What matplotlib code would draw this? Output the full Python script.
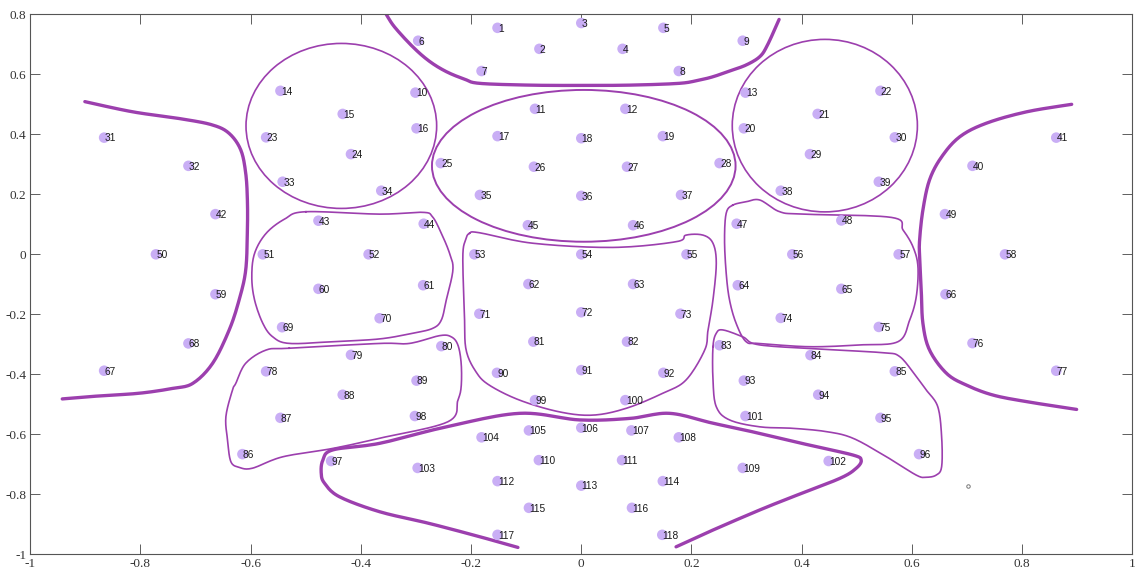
import numpy as np
import matplotlib
matplotlib.use("Agg")
from matplotlib import pyplot as plt
from matplotlib.patches import Ellipse
from matplotlib.ticker import FuncFormatter

# axis numbers in a serif face, channel labels in sans
plt.rcParams['font.family'] = ['Liberation Serif', 'DejaVu Serif']

# electrode positions (2D projection), channel n is at index n-1
chan_x = [-0.152, -0.076, 0.0, 0.075, 0.149, -0.296, -0.181, 0.177, 0.293, -0.301,
          -0.084, 0.080, 0.298, -0.546, -0.433, -0.299, -0.152, 0.0, 0.148, 0.295,
          0.429, 0.543, -0.572, -0.418, -0.255, -0.086, 0.083, 0.251, 0.415, 0.569,
          -0.866, -0.713, -0.542, -0.363, -0.184, 0.0, 0.181, 0.362, 0.540, 0.710,
          0.862, -0.664, -0.477, -0.286, -0.097, 0.094, 0.282, 0.472, 0.660, -0.772,
          -0.578, -0.386, -0.194, 0.0, 0.191, 0.383, 0.576, 0.769, -0.664, -0.477,
          -0.287, -0.096, 0.094, 0.284, 0.472, 0.661, -0.866, -0.713, -0.543, -0.366,
          -0.185, 0.0, 0.180, 0.362, 0.540, 0.710, 0.862, -0.572, -0.418, -0.254,
          -0.087, 0.083, 0.251, 0.416, 0.569, -0.615, -0.546, -0.433, -0.299, -0.153,
          0.0, 0.149, 0.295, 0.430, 0.543, 0.613, -0.454, -0.302, -0.084, 0.080,
          0.298, 0.449, -0.297, -0.181, -0.095, 0.0, 0.091, 0.177, 0.293, -0.077,
          0.074, -0.152, 0.0, 0.148, -0.095, 0.092, -0.152, 0.147]
chan_y = [0.755, 0.685, 0.771, 0.685, 0.755, 0.712, 0.611, 0.611, 0.712, 0.539,
          0.485, 0.485, 0.539, 0.545, 0.468, 0.420, 0.394, 0.387, 0.394, 0.420,
          0.468, 0.545, 0.390, 0.334, 0.304, 0.292, 0.292, 0.304, 0.334, 0.390,
          0.389, 0.295, 0.242, 0.212, 0.198, 0.195, 0.198, 0.212, 0.242, 0.295,
          0.389, 0.134, 0.112, 0.102, 0.097, 0.097, 0.102, 0.113, 0.134, 0.0,
          0.0, 0.0, 0.0, 0.0, 0.0, 0.0, 0.0, 0.0, -0.133, -0.115,
          -0.103, -0.099, -0.099, -0.103, -0.115, -0.133, -0.388, -0.297, -0.243, -0.213,
          -0.198, -0.193, -0.198, -0.212, -0.242, -0.296, -0.388, -0.390, -0.335, -0.306,
          -0.291, -0.291, -0.303, -0.336, -0.390, -0.666, -0.545, -0.468, -0.421, -0.395,
          -0.386, -0.395, -0.421, -0.468, -0.545, -0.666, -0.689, -0.539, -0.486, -0.486,
          -0.539, -0.689, -0.712, -0.610, -0.587, -0.578, -0.587, -0.610, -0.712, -0.686,
          -0.686, -0.756, -0.771, -0.756, -0.845, -0.845, -0.935, -0.935]
chan_names = [str(i + 1) for i in range(len(chan_x))]

# region borders, thick (open curves)
frontal_border = [(-0.354, 0.800), (-0.339, 0.758), (-0.306, 0.692), (-0.276, 0.644),
                  (-0.245, 0.609), (-0.212, 0.584), (-0.185, 0.570), (-0.094, 0.564),
                  (-0.003, 0.563), (0.088, 0.564), (0.178, 0.570), (0.214, 0.581),
                  (0.239, 0.592), (0.269, 0.611), (0.299, 0.631), (0.324, 0.659),
                  (0.338, 0.698), (0.359, 0.783)]
left_temporal = [(-0.901, 0.509), (-0.814, 0.475), (-0.724, 0.451), (-0.669, 0.431),
                 (-0.639, 0.403), (-0.618, 0.348), (-0.609, 0.270), (-0.606, 0.181),
                 (-0.606, 0.081), (-0.609, -0.052), (-0.621, -0.152), (-0.639, -0.252),
                 (-0.669, -0.363), (-0.705, -0.430), (-0.742, -0.447), (-0.802, -0.463),
                 (-0.875, -0.472), (-0.942, -0.482)]
right_temporal = [(0.890, 0.500), (0.808, 0.475), (0.735, 0.437), (0.687, 0.392),
                  (0.654, 0.325), (0.632, 0.248), (0.620, 0.148), (0.614, 0.048),
                  (0.614, -0.008), (0.617, -0.119), (0.620, -0.230), (0.632, -0.319),
                  (0.663, -0.397), (0.699, -0.436), (0.747, -0.469), (0.808, -0.491),
                  (0.899, -0.517)]
occipital = [(0.172, -0.975), (0.239, -0.919), (0.324, -0.852), (0.384, -0.808),
             (0.469, -0.747), (0.499, -0.713), (0.508, -0.686), (0.493, -0.669),
             (0.414, -0.636), (0.324, -0.597), (0.239, -0.563), (0.160, -0.530),
             (0.088, -0.547), (-0.003, -0.552), (-0.112, -0.530), (-0.245, -0.575),
             (-0.366, -0.630), (-0.451, -0.652), (-0.469, -0.686), (-0.472, -0.730),
             (-0.466, -0.763), (-0.439, -0.808), (-0.366, -0.858), (-0.276, -0.897),
             (-0.185, -0.941), (-0.115, -0.977)]

# region borders, thin (closed)
left_central = [(-0.500, 0.142), (-0.366, 0.134), (-0.288, 0.140), (-0.270, 0.125),
                (-0.254, 0.070), (-0.239, 0.003), (-0.233, -0.052), (-0.245, -0.152),
                (-0.254, -0.219), (-0.270, -0.247), (-0.306, -0.263), (-0.366, -0.282),
                (-0.451, -0.291), (-0.530, -0.297), (-0.560, -0.275), (-0.578, -0.230),
                (-0.593, -0.152), (-0.598, -0.075), (-0.593, 0.003), (-0.572, 0.070),
                (-0.538, 0.118)]
right_central = [(0.275, 0.164), (0.299, 0.175), (0.324, 0.181), (0.360, 0.142),
                 (0.402, 0.134), (0.563, 0.123), (0.584, 0.081), (0.602, 0.025),
                 (0.611, -0.041), (0.608, -0.141), (0.596, -0.219), (0.575, -0.291),
                 (0.505, -0.302), (0.414, -0.308), (0.324, -0.297), (0.299, -0.291),
                 (0.281, -0.230), (0.269, -0.152), (0.263, -0.063), (0.260, 0.048),
                 (0.263, 0.137)]
mid_central = [(-0.203, 0.070), (-0.185, 0.072), (-0.088, 0.037), (0.057, 0.023),
               (0.172, 0.042), (0.190, 0.064), (0.221, 0.064), (0.239, 0.037),
               (0.245, -0.030), (0.239, -0.152), (0.230, -0.252), (0.224, -0.319),
               (0.190, -0.419), (0.148, -0.463), (0.082, -0.513), (0.021, -0.536),
               (-0.040, -0.525), (-0.112, -0.486), (-0.167, -0.436), (-0.191, -0.392),
               (-0.209, -0.319), (-0.212, -0.208), (-0.215, -0.008), (-0.210, 0.048)]
left_parietal = [(-0.530, -0.313), (-0.366, -0.297), (-0.312, -0.297), (-0.257, -0.271),
                 (-0.236, -0.275), (-0.224, -0.302), (-0.218, -0.363), (-0.218, -0.441),
                 (-0.224, -0.486), (-0.242, -0.558), (-0.366, -0.613), (-0.451, -0.647),
                 (-0.542, -0.675), (-0.597, -0.713), (-0.621, -0.710), (-0.636, -0.691),
                 (-0.642, -0.619), (-0.645, -0.541), (-0.633, -0.452), (-0.627, -0.430),
                 (-0.609, -0.363), (-0.572, -0.319)]
right_parietal = [(0.239, -0.308), (0.245, -0.263), (0.257, -0.252), (0.293, -0.275),
                  (0.324, -0.302), (0.445, -0.317), (0.547, -0.328), (0.578, -0.341),
                  (0.608, -0.408), (0.626, -0.452), (0.647, -0.508), (0.654, -0.608),
                  (0.654, -0.708), (0.644, -0.736), (0.626, -0.743), (0.608, -0.736),
                  (0.554, -0.675), (0.493, -0.613), (0.445, -0.591), (0.384, -0.580),
                  (0.324, -0.575), (0.269, -0.552), (0.245, -0.508), (0.239, -0.419)]

# elliptic regions: (cx, cy, width, height)
left_frontal = (-0.4355, 0.428, 0.346, 0.550)
right_frontal = (0.442, 0.429, 0.336, 0.575)
mid_frontal = (0.0045, 0.295, 0.551, 0.506)


def smooth(pts, closed, n=12):
    # Catmull-Rom through the border vertices
    p = np.array(pts, dtype=float)
    if closed:
        p = np.vstack([p[-1], p, p[0], p[1]])
    else:
        p = np.vstack([p[0], p, p[-1]])
    out = []
    t = np.linspace(0, 1, n, endpoint=False)[:, None]
    for i in range(1, len(p) - 2):
        p0, p1, p2, p3 = p[i - 1], p[i], p[i + 1], p[i + 2]
        seg = 0.5 * ((2 * p1) + (-p0 + p2) * t + (2 * p0 - 5 * p1 + 4 * p2 - p3) * t ** 2
                     + (-p0 + 3 * p1 - 3 * p2 + p3) * t ** 3)
        out.append(seg)
    out.append(p[-2][None, :])
    return np.vstack(out)


line_col = '#9c3fae'
dot_col = '#c9aef5'

fig = plt.figure(figsize=(11.39, 5.71), dpi=100)
ax = fig.add_axes([0.0266, 0.0292, 0.9675, 0.9457])

for b in [frontal_border, left_temporal, right_temporal, occipital]:
    s = smooth(b, closed=False)
    ax.plot(s[:, 0], s[:, 1], color=line_col, lw=2.4, solid_capstyle='round', zorder=2)
for b in [left_central, right_central, mid_central, left_parietal, right_parietal]:
    s = smooth(b, closed=True)
    ax.plot(s[:, 0], s[:, 1], color=line_col, lw=1.2, zorder=2)
for cx, cy, w, h in [left_frontal, right_frontal]:
    ax.add_patch(Ellipse((cx, cy), w, h, fill=False, ec=line_col, lw=1.2, zorder=2))
ax.add_patch(Ellipse(mid_frontal[:2], mid_frontal[2], mid_frontal[3], fill=False,
                     ec=line_col, lw=1.4, zorder=2))

ax.scatter(chan_x, chan_y, s=58, color=dot_col, edgecolors='none', zorder=3)
for x, y, name in zip(chan_x, chan_y, chan_names):
    ax.annotate(name, (x, y), xytext=(0.3, -0.6), textcoords='offset points',
                ha='left', va='center', fontsize=7.3, family='Liberation Sans',
                color='#1a1a1a', zorder=4)

# stray reference marker
ax.plot([0.701], [-0.773], 'o', ms=2.5, mfc='none', mec='#777777', mew=0.7)

ax.set_xlim(-1, 1)
ax.set_ylim(-1, 0.8)
ax.set_xticks(np.round(np.arange(-1, 1.01, 0.2), 1))
ax.set_yticks(np.round(np.arange(-1, 0.81, 0.2), 1))
fmt = FuncFormatter(lambda v, pos: '%g' % (round(v, 1) + 0.0))
ax.xaxis.set_major_formatter(fmt)
ax.yaxis.set_major_formatter(fmt)
ax.tick_params(direction='in', length=7.5, width=0.6, color='#444444',
               top=True, right=True, labelsize=9.5, labelcolor='#333333', pad=3)
for sp in ax.spines.values():
    sp.set_color('#555555')
    sp.set_linewidth(0.8)

fig.savefig('out.png', dpi=100)
